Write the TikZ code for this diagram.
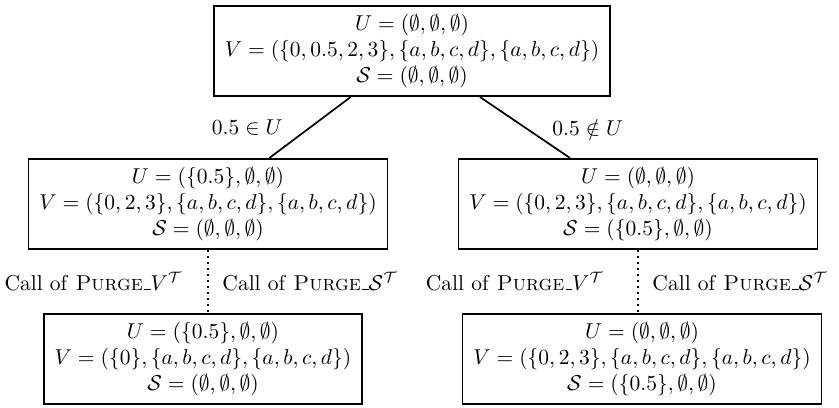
\documentclass[tikz,border=0pt]{standalone}
\usepackage{amsmath, amssymb}
\usetikzlibrary{positioning}
\newcommand{\usc}{\leavevmode\kern.06em\vbox{\hrule width.3em}}

\begin{document}
\begin{tikzpicture}[
    x=0.465pt, y=-0.465pt,
    thick,
    state/.style={rectangle, draw, align=center, inner xsep=5pt, inner ysep=4pt},
    call/.style={dotted},
]
    \useasboundingbox (0,0) rectangle (839,407);

    % Root
    \node[state] (root) at (412,51) {$U=(\emptyset,\emptyset,\emptyset)$\\$V=(\{0,0.5,2,3\},\{a,b,c,d\},\{a,b,c,d\})$\\$\mathcal{S}=(\emptyset,\emptyset,\emptyset)$};

    % Branches
    \node[state] (in) at (208,204) {$U=(\{0.5\},\emptyset,\emptyset)$\\$V=(\{0,2,3\},\{a,b,c,d\},\{a,b,c,d\})$\\$\mathcal{S}=(\emptyset,\emptyset,\emptyset)$};
    \node[state] (out) at (638,204) {$U=(\emptyset,\emptyset,\emptyset)$\\$V=(\{0,2,3\},\{a,b,c,d\},\{a,b,c,d\})$\\$\mathcal{S}=(\{0.5\},\emptyset,\emptyset)$};

    % After purging
    \node[state] (inP) at (203,359) {$U=(\{0.5\},\emptyset,\emptyset)$\\$V=(\{0\},\{a,b,c,d\},\{a,b,c,d\})$\\$\mathcal{S}=(\emptyset,\emptyset,\emptyset)$};
    \node[state] (outP) at (642,359) {$U=(\emptyset,\emptyset,\emptyset)$\\$V=(\{0,2,3\},\{a,b,c,d\},\{a,b,c,d\})$\\$\mathcal{S}=(\{0.5\},\emptyset,\emptyset)$};

    \draw (root) -- node[left=9pt] {$0.5\in U$} (in);
    \draw (root) -- node[right=9pt] {$0.5\notin U$} (out);

    \draw[call] (in.south) -- node[left=8pt] {Call of \textsc{Purge}\usc$V^{\mathcal{T}}$} node[right=3pt] {Call of \textsc{Purge}\usc$\mathcal{S}^{\mathcal{T}}$} (in.south |- inP.north);
    \draw[call] (out.south) -- node[left=12pt] {Call of \textsc{Purge}\usc$V^{\mathcal{T}}$} node[right=3pt] {Call of \textsc{Purge}\usc$\mathcal{S}^{\mathcal{T}}$} (out.south |- outP.north);
\end{tikzpicture}
\end{document}
